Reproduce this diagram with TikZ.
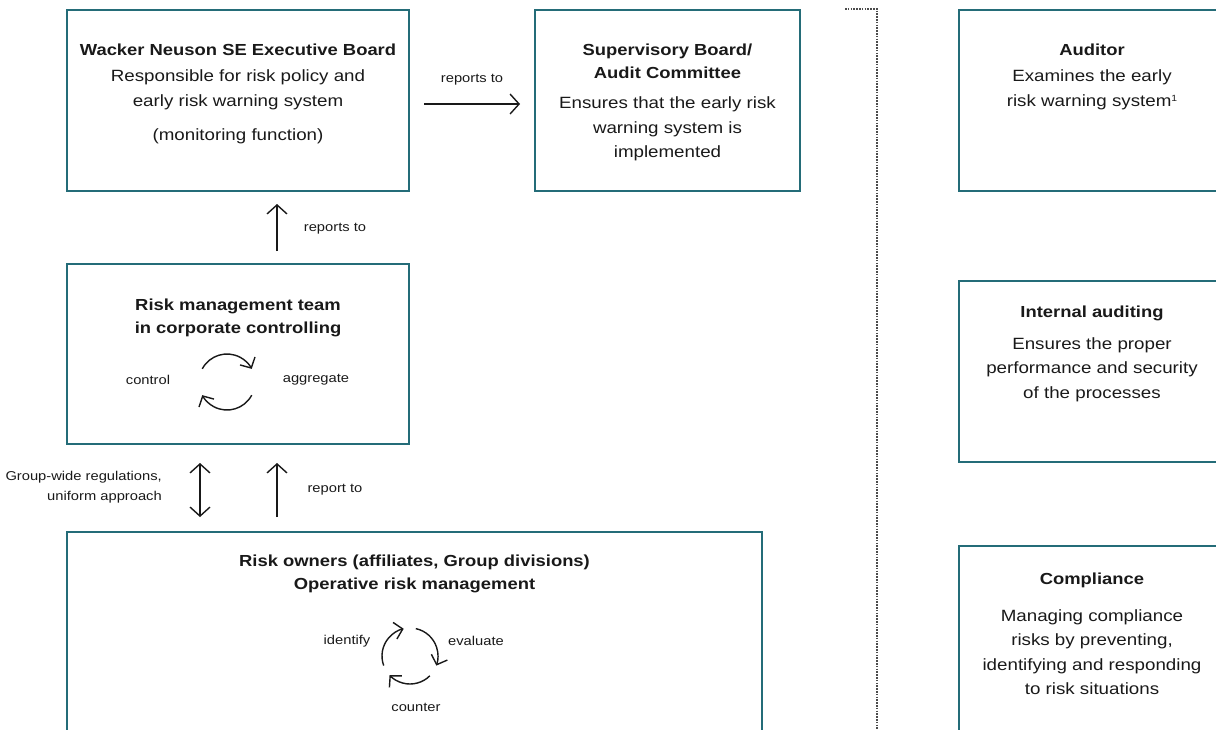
\documentclass[tikz,border=0pt]{standalone}
\usepackage{fontspec}
\setmainfont[FakeStretch=1.15]{Liberation Sans}
\usetikzlibrary{arrows.meta}
\definecolor{teal1}{RGB}{36,108,120}
\definecolor{ink}{RGB}{25,25,25}
\begin{document}
\begin{tikzpicture}[x=1pt,y=-1pt,
  box/.style={draw=teal1,line width=2.5pt,inner sep=0pt,outer sep=0pt},
  ttl/.style={font=\fontsize{16}{23}\selectfont\bfseries,align=center,inner sep=0pt,text=ink},
  txt/.style={font=\fontsize{16.3}{24.5}\selectfont,align=center,inner sep=0pt,text=ink},
  lbl/.style={font=\fontsize{12.8}{20}\selectfont,inner sep=0pt,text=ink},
  arr/.style={draw=ink,line width=1.4pt,-{Straight Barb[length=9pt,width=20pt]}},
  darr/.style={draw=ink,line width=1.4pt,{Straight Barb[length=9pt,width=20pt]}-{Straight Barb[length=9pt,width=20pt]}},
  cyc/.style={draw=ink,line width=1.4pt,-{Straight Barb[length=8pt,width=17pt]}}]
\useasboundingbox (0,0) rectangle (1216,729);
\clip (0,0) rectangle (1216,729);

% boxes
\node[box,minimum width=342pt,minimum height=181pt] (exec) at (238,100.5) {};
\node[box,minimum width=265pt,minimum height=181pt] (sup) at (667.5,100.5) {};
\node[box,minimum width=342pt,minimum height=180pt] (team) at (238,354) {};
\node[box,minimum width=695pt,minimum height=248pt] (own) at (414.5,656) {};
\node[box,minimum width=266pt,minimum height=181pt] (aud) at (1092,100.5) {};
\node[box,minimum width=266pt,minimum height=181pt] (int) at (1092,371.5) {};
\node[box,minimum width=266pt,minimum height=254pt] (comp) at (1092,673) {};

% texts
\node[ttl] (exec-t) at (238,50) {Wacker Neuson SE Executive Board};
\node[txt] (exec-b) at (238,90) {Responsible for risk policy and\\early risk warning system};
\node[txt] (exec-p) at (238,136) {(monitoring function)};

\node[ttl] (sup-t) at (667.5,61.5) {Supervisory Board/\\Audit Committee};
\node[txt] (sup-b) at (667.5,129) {Ensures that the early risk\\warning system is\\implemented};

\node[ttl] (team-t) at (238,317.5) {Risk management team\\in corporate controlling};
\node[lbl] (ctrl) at (148,380) {control};
\node[lbl] (aggr) at (316,380) {aggregate};

\node[ttl] (own-t) at (414.5,574) {Risk owners (affiliates, Group divisions)\\Operative risk management};
\node[lbl] (ident) at (347,641) {identify};
\node[lbl] (eval) at (476,641) {evaluate};
\node[lbl] (count) at (416,707) {counter};

\node[ttl] (aud-t) at (1092,50) {Auditor};
\node[txt] (aud-b) at (1092,90) {Examines the early\\risk warning system{\fontsize{9}{9}\selectfont\raisebox{5pt}{1}}};

\node[ttl] (int-t) at (1092,313) {Internal auditing};
\node[txt] (int-b) at (1092,369.5) {Ensures the proper\\performance and security\\of the processes};

\node[ttl] (comp-t) at (1092,580) {Compliance};
\node[txt] (comp-b) at (1092,652) {Managing compliance\\risks by preventing,\\identifying and responding\\to risk situations};

% connectors
\draw[arr,shorten <=15pt,shorten >=15pt] ([yshift=-3.5pt]exec.east) -- ([yshift=-3.5pt]sup.west)
  node[lbl,midway,above=18pt] (rep1) {reports to};
\draw[arr,shorten <=13pt,shorten >=13pt] ([xshift=39pt]team.north) -- ([xshift=39pt]exec.south);
\node[lbl] (rep2) at (335,229) {reports to};
\draw[darr,shorten <=19pt,shorten >=15pt] ([xshift=-38pt]team.south) -- ([xshift=-38pt]team.south |- own.north);
\draw[arr,shorten <=15pt,shorten >=19pt] ([xshift=39pt]team.south |- own.north) -- ([xshift=39pt]team.south);
\node[lbl,align=right,anchor=east] (grp) at (162,487.5) {Group-wide regulations,\\uniform approach};
\node[lbl] (rep3) at (335,490) {report to};

% cycles
\coordinate (c1) at (227,382);
\draw[cyc] (c1) ++(208:28) arc[start angle=208,end angle=332,radius=28];
\draw[cyc] (c1) ++(28:28) arc[start angle=28,end angle=152,radius=28];
\coordinate (c2) at (410,656);
\draw[cyc] (c2) ++(160:28) arc[start angle=160,end angle=257,radius=28];
\draw[cyc] (c2) ++(282:28) arc[start angle=282,end angle=380,radius=28];
\draw[cyc] (c2) ++(45:28) arc[start angle=45,end angle=137,radius=28];

% dotted separator
\draw[draw=black!70,line width=1.3pt,dash pattern=on 1.5pt off 1.3pt] (845,9) -- (877,9) -- (877,729);
\end{tikzpicture}
\end{document}
